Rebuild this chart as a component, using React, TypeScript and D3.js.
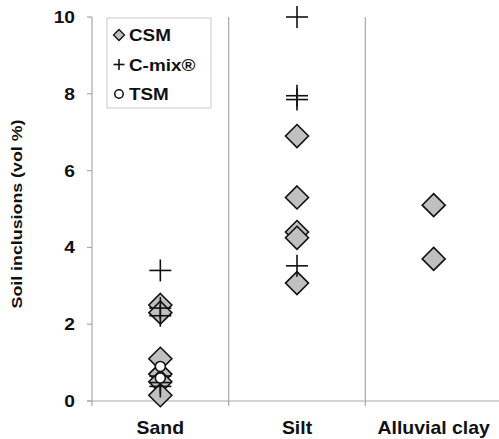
import React from "react";
import * as d3 from "d3";

const categories = ["Sand", "Silt", "Alluvial clay"];
const yTicks = [0, 2, 4, 6, 8, 10];
const csmSand = [2.5, 2.3, 1.1, 0.7, 0.5, 0.15];
const csmSilt = [6.9, 5.3, 4.4, 4.25, 3.07];
const csmClay = [5.1, 3.7];
const cmixSand = [3.4, 2.42, 2.22, 0.65, 0.48, 0.38];
const cmixSilt = [10.0, 7.95, 7.85, 3.52];
const tsmSand = [0.9, 0.6];
const legendLabels = ["CSM", "C-mix®", "TSM"];

const W = 499;
const H = 439;
const FONT = "'Liberation Sans', Arial, sans-serif";

function pts(cat: string, vals: number[]) {
  return vals.map((v) => ({ cat, v }));
}

export default function App() {
  const x = d3.scaleBand<string>().domain(categories).range([92, 502]);
  const y = d3.scaleLinear().domain([0, 10]).range([401, 17]);
  const cx = (c: string) => (x(c) as number) + x.bandwidth() / 2;

  const csm = [...pts("Sand", csmSand), ...pts("Silt", csmSilt), ...pts("Alluvial clay", csmClay)];
  const cmix = [...pts("Sand", cmixSand), ...pts("Silt", cmixSilt)];
  const tsm = [...pts("Sand", tsmSand)];

  const axisColor = "#a8a8a8";
  const d = 11.5;
  const p = 11;
  const diamond = (px: number, py: number, s: number) =>
    `M${px},${py - s}L${px + s},${py}L${px},${py + s}L${px - s},${py}Z`;

  return (
    <svg width={W} height={H} style={{ position: "absolute", left: 0, top: 0, background: "#fff" }}>
      {categories.map((c) => (
        <line key={c} x1={x(c) as number} x2={x(c) as number} y1={y(10)} y2={406} stroke={axisColor} strokeWidth={1.2} />
      ))}
      <line x1={87} x2={W} y1={y(0)} y2={y(0)} stroke={axisColor} strokeWidth={1.2} />
      {yTicks.map((t) => (
        <g key={t}>
          <line x1={87} x2={92} y1={y(t)} y2={y(t)} stroke={axisColor} strokeWidth={1.2} />
          <text
            transform={`translate(75,${y(t) + 6}) scale(1.2,1)`}
            textAnchor="end"
            fontFamily={FONT}
            fontWeight="bold"
            fontSize={16}
            fill="#111"
          >
            {t}
          </text>
        </g>
      ))}
      <text
        transform={`translate(22,214) rotate(-90) scale(1.15,1)`}
        textAnchor="middle"
        fontFamily={FONT}
        fontWeight="bold"
        fontSize={15.5}
        fill="#111"
      >
        Soil inclusions (vol %)
      </text>
      {categories.map((c) => (
        <text
          key={c}
          transform={`translate(${cx(c)},434) scale(1.08,1)`}
          textAnchor="middle"
          fontFamily={FONT}
          fontWeight="bold"
          fontSize={18}
          fill="#111"
        >
          {c}
        </text>
      ))}
      {csm.map((o, i) => (
        <path key={"d" + i} d={diamond(cx(o.cat), y(o.v), d)} fill="#c0c0c0" stroke="#111" strokeWidth={1.6} />
      ))}
      {cmix.map((o, i) => (
        <g key={"p" + i} stroke="#111" strokeWidth={1.6}>
          <line x1={cx(o.cat) - p} x2={cx(o.cat) + p} y1={y(o.v)} y2={y(o.v)} />
          <line x1={cx(o.cat)} x2={cx(o.cat)} y1={y(o.v) - p} y2={y(o.v) + p} />
        </g>
      ))}
      {tsm.map((o, i) => (
        <circle key={"c" + i} cx={cx(o.cat)} cy={y(o.v)} r={5} fill="#fff" stroke="#111" strokeWidth={1.6} />
      ))}
      <rect x={107} y={18} width={104} height={90} fill="#fff" stroke="#c8c8c8" strokeWidth={1} />
      {legendLabels.map((l, i) => {
        const ly = 35 + i * 29.5;
        return (
          <g key={l}>
            {i === 0 && <path d={diamond(119, ly, 5.5)} fill="#c0c0c0" stroke="#111" strokeWidth={1.3} />}
            {i === 1 && (
              <g stroke="#111" strokeWidth={1.6}>
                <line x1={113.5} x2={124.5} y1={ly} y2={ly} />
                <line x1={119} x2={119} y1={ly - 5.5} y2={ly + 5.5} />
              </g>
            )}
            {i === 2 && <circle cx={119} cy={ly} r={4.2} fill="#fff" stroke="#111" strokeWidth={1.5} />}
            <text
              transform={`translate(129,${ly + 6}) scale(1.18,1)`}
              fontFamily={FONT}
              fontWeight="bold"
              fontSize={16}
              fill="#111"
            >
              {l}
            </text>
          </g>
        );
      })}
    </svg>
  );
}
